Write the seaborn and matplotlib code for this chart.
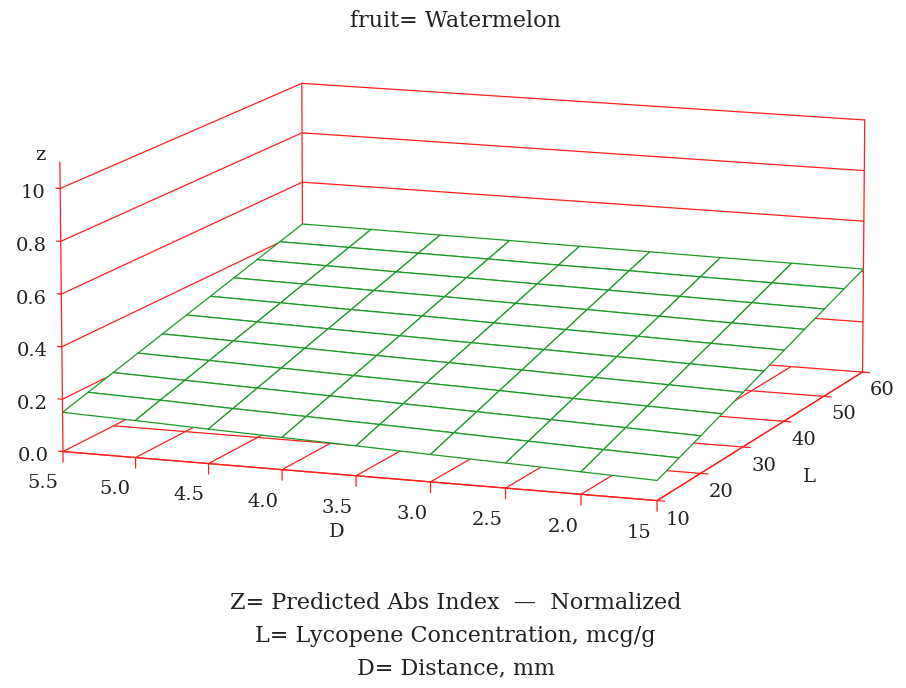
import numpy as np
import pandas as pd
import matplotlib
matplotlib.use("Agg")
import matplotlib.pyplot as plt
import seaborn as sns

# ---- data -------------------------------------------------------------
title = "fruit= Watermelon"
footnotes = [
    "Z= Predicted Abs Index  \u2014  Normalized",
    "L= Lycopene Concentration, mcg/g",
    "D= Distance, mm",
]

D_values = [5.5, 5.0, 4.5, 4.0, 3.5, 3.0, 2.5, 2.0, 1.5]
L_values = [10, 15, 20, 25, 30, 35, 40, 45, 50, 55, 60]

# predicted response, one row per L value, columns follow D_values
Z_rows = [
    [0.150, 0.141, 0.131, 0.122, 0.113, 0.103, 0.094, 0.084, 0.075],
    [0.178, 0.170, 0.160, 0.152, 0.144, 0.135, 0.126, 0.117, 0.109],
    [0.206, 0.198, 0.190, 0.182, 0.174, 0.166, 0.158, 0.150, 0.142],
    [0.234, 0.227, 0.219, 0.212, 0.205, 0.198, 0.190, 0.183, 0.176],
    [0.262, 0.256, 0.249, 0.242, 0.236, 0.229, 0.222, 0.216, 0.209],
    [0.290, 0.284, 0.278, 0.272, 0.266, 0.261, 0.255, 0.249, 0.243],
    [0.318, 0.313, 0.307, 0.303, 0.297, 0.292, 0.287, 0.281, 0.276],
    [0.346, 0.342, 0.337, 0.333, 0.328, 0.324, 0.319, 0.314, 0.310],
    [0.374, 0.370, 0.366, 0.363, 0.359, 0.355, 0.351, 0.347, 0.343],
    [0.402, 0.399, 0.396, 0.393, 0.389, 0.387, 0.383, 0.380, 0.377],
    [0.430, 0.428, 0.425, 0.423, 0.420, 0.418, 0.415, 0.413, 0.410],
]

z_ticks = [0.0, 0.2, 0.4, 0.6, 0.8, 1.0]
z_tick_labels = ["0.0", "0.2", "0.4", "0.6", "0.8", "10"]
D_ticks = [5.5, 5.0, 4.5, 4.0, 3.5, 3.0, 2.5, 2.0, 1.5]
D_tick_labels = ["5.5", "5.0", "4.5", "4.0", "3.5", "3.0", "2.5", "2.0", "15"]
L_ticks = [10, 20, 30, 40, 50, 60]
L_tick_labels = ["10", "20", "30", "40", "50", "60"]

# long-form table of the surface
surface = pd.DataFrame(
    [(d, l, z) for l, row in zip(L_values, Z_rows) for d, z in zip(D_values, row)],
    columns=["D", "L", "Z"],
)

# ---- style ------------------------------------------------------------
sns.set_theme(style="white")
plt.rcParams["font.family"] = ["DejaVu Serif"]
RED = "#ff2020"
GREEN = "#1f9a2a"
TXT = "#222222"
FS = 14

W, H = 906, 688
fig = plt.figure(figsize=(W / 100, H / 100), dpi=100, facecolor="white")
ax = fig.add_axes([0.010268, -0.082520, 0.993377, 1.308140],
                  projection="3d", computed_zorder=False)
ax.set_axis_off()

D_lo, D_hi = min(D_values), max(D_values)
L_lo, L_hi = min(L_values), max(L_values)
z_lo, z_hi = min(z_ticks), max(z_ticks)

# viewing geometry
ax.set_xlim(D_hi, D_lo)
ax.set_ylim(L_lo, L_hi)
ax.set_zlim(z_lo, z_hi)
ax.view_init(elev=11.3255, azim=-69.3017, roll=0.0443)
ax.set_box_aspect((1, 1.02459, 0.42499), zoom=0.99531)
ax.set_proj_type("persp", focal_length=1.70491)


def label(x, y, z, s, **kw):
    """Place upright text at the screen position of a 3D data point."""
    p = ax.get_proj() @ np.array([x, y, z, 1.0])
    ax.text2D(p[0] / p[3], p[1] / p[3], s, transform=ax.transData,
              fontsize=FS, color=TXT, zorder=4, **kw)


# floor grid (z = 0)
for d in D_ticks:
    ax.plot([d, d], [L_lo, L_hi], [0, 0], color=RED, lw=0.9, zorder=1)
for l in L_ticks:
    ax.plot([D_hi, D_lo], [l, l], [0, 0], color=RED, lw=0.9, zorder=1)
# left wall (D = 5.5) and back wall (L = 60)
for z in z_ticks[1:]:
    ax.plot([D_hi, D_hi], [L_lo, L_hi], [z, z], color=RED, lw=0.9, zorder=1)
    ax.plot([D_hi, D_lo], [L_hi, L_hi], [z, z], color=RED, lw=0.9, zorder=1)
ax.plot([D_hi, D_hi], [L_hi, L_hi], [z_lo, z_hi], color=RED, lw=0.9, zorder=1)
ax.plot([D_lo, D_lo], [L_hi, L_hi], [z_lo, z_hi], color=RED, lw=0.9, zorder=1)

# response surface as an opaque wireframe
grid = surface.pivot(index="L", columns="D", values="Z")
grid = grid[sorted(grid.columns, reverse=True)]
DD, LL = np.meshgrid(grid.columns.values, grid.index.values)
ax.plot_surface(DD, LL, grid.values, rstride=1, cstride=1, color="white",
                edgecolor=GREEN, linewidth=0.9, shade=False,
                antialiased=True, zorder=2)

# front axes with ticks and labels
ax.plot([D_hi, D_hi], [L_lo, L_lo], [z_lo, 1.1], color=RED, lw=0.9, zorder=3)
ax.plot([D_hi, D_lo], [L_lo, L_lo], [0, 0], color=RED, lw=0.9, zorder=3)
ax.plot([D_lo, D_lo], [L_lo, L_hi], [0, 0], color=RED, lw=0.9, zorder=3)

for z, lab in zip(z_ticks, z_tick_labels):
    ax.plot([D_hi, D_hi + 0.03], [L_lo, L_lo], [z, z], color=RED, lw=0.9, zorder=3)
    label(D_hi + 0.10, L_lo, z - 0.022, lab, ha="right", va="center")
label(D_hi + 0.135, L_lo, 1.12, "z", ha="center", va="center")

for d, lab in zip(D_ticks, D_tick_labels):
    ax.plot([d, d], [L_lo, L_lo], [0, -0.04], color=RED, lw=0.9, zorder=3)
    label(d, L_lo - 4, -0.08, lab, ha="center", va="center")
label(3.5, L_lo - 4, -0.17, "D", ha="center", va="center")

for l, lab in zip(L_ticks, L_tick_labels):
    ax.plot([D_lo, D_lo - 0.05], [l, l], [0, 0], color=RED, lw=0.9, zorder=3)
    label(D_lo - 0.14, l, -0.065, lab, ha="center", va="center")
label(D_lo - 0.31, 35, -0.15, "L", ha="center", va="center")

fig.text(0.503, 0.9695, title, ha="center", va="center", fontsize=16, color=TXT)
for y, line in zip([0.1235, 0.0756, 0.0291], footnotes):
    fig.text(0.503, y, line, ha="center", va="center", fontsize=16, color=TXT)

fig.savefig("out.png", dpi=100, facecolor="white")
